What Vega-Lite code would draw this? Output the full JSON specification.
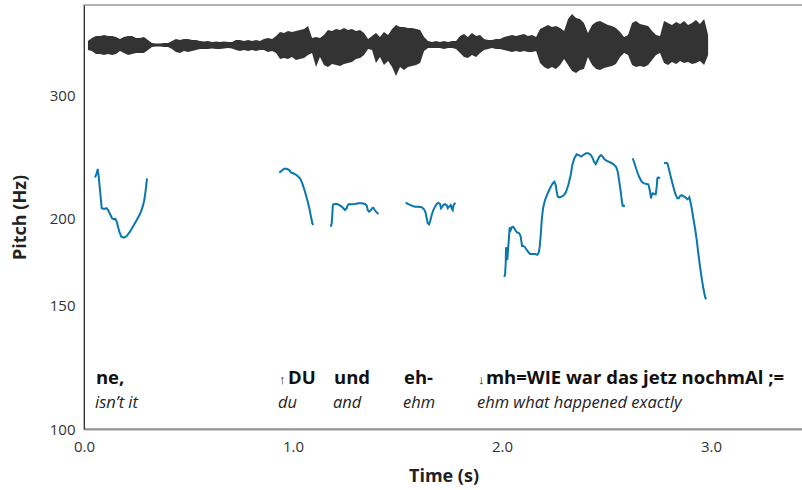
{
  "$schema": "https://vega.github.io/schema/vega-lite/v6.json",
  "width": 719,
  "height": 424,
  "autosize": {"type": "none"},
  "padding": {"left": 84, "top": 5, "right": 0, "bottom": 61},
  "background": "white",
  "config": {"view": {"stroke": "#999", "strokeWidth": 1.5}, "font": "Open Sans"},
  "datasets": {
    "wave": [
      {"t":0.019,"hi":4,"lo":-5},{"t":0.038,"hi":7,"lo":-6},{"t":0.057,"hi":9,"lo":-9},{"t":0.077,"hi":9,"lo":-9},{"t":0.096,"hi":10,"lo":-10},{"t":0.115,"hi":9,"lo":-9},{"t":0.134,"hi":9,"lo":-10},{"t":0.153,"hi":8,"lo":-9},{"t":0.172,"hi":6,"lo":-6},{"t":0.191,"hi":8,"lo":-8},
      {"t":0.211,"hi":9,"lo":-10},{"t":0.230,"hi":9,"lo":-9},{"t":0.249,"hi":7,"lo":-8},{"t":0.268,"hi":7,"lo":-8},{"t":0.287,"hi":8,"lo":-8},{"t":0.306,"hi":5,"lo":-5},{"t":0.325,"hi":2,"lo":-2},{"t":0.344,"hi":1.5,"lo":-1.5},{"t":0.364,"hi":1.5,"lo":-1.5},{"t":0.383,"hi":2,"lo":-2},
      {"t":0.402,"hi":2,"lo":-2},{"t":0.421,"hi":4,"lo":-4},{"t":0.440,"hi":6,"lo":-7},{"t":0.459,"hi":5,"lo":-8},{"t":0.478,"hi":6,"lo":-6},{"t":0.498,"hi":6,"lo":-7},{"t":0.517,"hi":5,"lo":-6},{"t":0.536,"hi":5,"lo":-5},{"t":0.555,"hi":4,"lo":-4},{"t":0.574,"hi":3.5,"lo":-4},
      {"t":0.593,"hi":4,"lo":-4},{"t":0.612,"hi":3,"lo":-3.5},{"t":0.632,"hi":3.5,"lo":-4},{"t":0.651,"hi":3,"lo":-4},{"t":0.670,"hi":3.5,"lo":-3.5},{"t":0.689,"hi":3,"lo":-3},{"t":0.708,"hi":3,"lo":-3.5},{"t":0.727,"hi":5,"lo":-5},{"t":0.746,"hi":5,"lo":-6},{"t":0.766,"hi":4,"lo":-5},
      {"t":0.785,"hi":5,"lo":-6},{"t":0.804,"hi":4,"lo":-5},{"t":0.823,"hi":5,"lo":-6},{"t":0.842,"hi":4,"lo":-5},{"t":0.861,"hi":6,"lo":-5},{"t":0.880,"hi":7,"lo":-7},{"t":0.900,"hi":6,"lo":-6},{"t":0.919,"hi":9,"lo":-8},{"t":0.938,"hi":13,"lo":-14},{"t":0.957,"hi":12,"lo":-13},
      {"t":0.976,"hi":14,"lo":-14},{"t":0.995,"hi":13,"lo":-12},{"t":1.014,"hi":14,"lo":-15},{"t":1.033,"hi":15,"lo":-14},{"t":1.053,"hi":16,"lo":-13},{"t":1.072,"hi":19,"lo":-10},{"t":1.091,"hi":7,"lo":-8},{"t":1.110,"hi":8,"lo":-22},{"t":1.129,"hi":7,"lo":-12},{"t":1.148,"hi":10,"lo":-20},
      {"t":1.167,"hi":15,"lo":-22},{"t":1.187,"hi":14,"lo":-19},{"t":1.206,"hi":16,"lo":-20},{"t":1.225,"hi":15,"lo":-21},{"t":1.244,"hi":17,"lo":-19},{"t":1.263,"hi":15,"lo":-18},{"t":1.282,"hi":16,"lo":-17},{"t":1.301,"hi":14,"lo":-14},{"t":1.321,"hi":15,"lo":-13},{"t":1.340,"hi":12,"lo":-10},
      {"t":1.359,"hi":6,"lo":-4},{"t":1.378,"hi":9,"lo":-5},{"t":1.397,"hi":12,"lo":-18},{"t":1.416,"hi":8,"lo":-12},{"t":1.435,"hi":13,"lo":-20},{"t":1.455,"hi":10,"lo":-16},{"t":1.474,"hi":16,"lo":-22},{"t":1.493,"hi":20,"lo":-31},{"t":1.512,"hi":18,"lo":-22},{"t":1.531,"hi":18,"lo":-25},
      {"t":1.550,"hi":17,"lo":-22},{"t":1.569,"hi":17,"lo":-21},{"t":1.589,"hi":16,"lo":-20},{"t":1.608,"hi":15,"lo":-18},{"t":1.627,"hi":8,"lo":-6},{"t":1.646,"hi":4,"lo":-3},{"t":1.665,"hi":3,"lo":-3},{"t":1.684,"hi":4,"lo":-3},{"t":1.703,"hi":3,"lo":-3},{"t":1.722,"hi":4,"lo":-4},
      {"t":1.742,"hi":3,"lo":-3},{"t":1.761,"hi":4,"lo":-3},{"t":1.780,"hi":4,"lo":-4},{"t":1.799,"hi":9,"lo":-8},{"t":1.818,"hi":11,"lo":-12},{"t":1.837,"hi":8,"lo":-13},{"t":1.856,"hi":12,"lo":-10},{"t":1.876,"hi":9,"lo":-12},{"t":1.895,"hi":10,"lo":-8},{"t":1.914,"hi":6,"lo":-5},
      {"t":1.933,"hi":5,"lo":-4},{"t":1.952,"hi":5,"lo":-3},{"t":1.971,"hi":6,"lo":-4},{"t":1.990,"hi":6,"lo":-4},{"t":2.010,"hi":8,"lo":-5},{"t":2.029,"hi":9,"lo":-6},{"t":2.048,"hi":10,"lo":-7},{"t":2.067,"hi":9,"lo":-6},{"t":2.086,"hi":10,"lo":-7},{"t":2.105,"hi":11,"lo":-6},
      {"t":2.124,"hi":9,"lo":-7},{"t":2.144,"hi":10,"lo":-7},{"t":2.163,"hi":8,"lo":-6},{"t":2.182,"hi":16,"lo":-18},{"t":2.201,"hi":18,"lo":-22},{"t":2.220,"hi":20,"lo":-24},{"t":2.239,"hi":18,"lo":-22},{"t":2.258,"hi":19,"lo":-24},{"t":2.278,"hi":17,"lo":-20},{"t":2.297,"hi":14,"lo":-14},
      {"t":2.316,"hi":26,"lo":-20},{"t":2.335,"hi":31,"lo":-26},{"t":2.354,"hi":27,"lo":-28},{"t":2.373,"hi":26,"lo":-25},{"t":2.392,"hi":22,"lo":-24},{"t":2.411,"hi":12,"lo":-12},{"t":2.431,"hi":20,"lo":-20},{"t":2.450,"hi":23,"lo":-24},{"t":2.469,"hi":24,"lo":-25},{"t":2.488,"hi":22,"lo":-23},
      {"t":2.507,"hi":20,"lo":-22},{"t":2.526,"hi":19,"lo":-21},{"t":2.545,"hi":17,"lo":-19},{"t":2.565,"hi":13,"lo":-12},{"t":2.584,"hi":8,"lo":-8},{"t":2.603,"hi":10,"lo":-10},{"t":2.622,"hi":22,"lo":-20},{"t":2.641,"hi":24,"lo":-22},{"t":2.660,"hi":21,"lo":-21},{"t":2.679,"hi":20,"lo":-22},
      {"t":2.699,"hi":19,"lo":-20},{"t":2.718,"hi":14,"lo":-15},{"t":2.737,"hi":10,"lo":-10},{"t":2.756,"hi":9,"lo":-8},{"t":2.775,"hi":24,"lo":-18},{"t":2.794,"hi":22,"lo":-20},{"t":2.813,"hi":20,"lo":-17},{"t":2.833,"hi":23,"lo":-19},{"t":2.852,"hi":21,"lo":-16},{"t":2.871,"hi":24,"lo":-18},
      {"t":2.890,"hi":20,"lo":-17},{"t":2.909,"hi":22,"lo":-19},{"t":2.928,"hi":25,"lo":-18},{"t":2.947,"hi":21,"lo":-16},{"t":2.967,"hi":26,"lo":-20},{"t":2.986,"hi":10,"lo":-10}
    ],
    "pitch": [
      {"seg":1,"t":0.0526,"hz":229.2},{"seg":1,"t":0.0608,"hz":232.3},{"seg":1,"t":0.0656,"hz":235.6},{"seg":1,"t":0.0703,"hz":229.7},{"seg":1,"t":0.0766,"hz":219.8},{"seg":1,"t":0.0847,"hz":207.0},{"seg":1,"t":0.0957,"hz":206.5},{"seg":1,"t":0.1086,"hz":207.0},{"seg":1,"t":0.1148,"hz":205.8},{"seg":1,"t":0.1244,"hz":203.1},{"seg":1,"t":0.1340,"hz":200.3},{"seg":1,"t":0.1435,"hz":199.6},{"seg":1,"t":0.1498,"hz":200.0},{"seg":1,"t":0.1565,"hz":198.1},{"seg":1,"t":0.1627,"hz":194.8},{"seg":1,"t":0.1689,"hz":191.6},{"seg":1,"t":0.1785,"hz":188.5},{"seg":1,"t":0.1914,"hz":187.9},{"seg":1,"t":0.2043,"hz":188.9},{"seg":1,"t":0.2201,"hz":191.6},{"seg":1,"t":0.2359,"hz":195.2},{"seg":1,"t":0.2522,"hz":199.1},{"seg":1,"t":0.2679,"hz":203.1},{"seg":1,"t":0.2809,"hz":208.1},{"seg":1,"t":0.2885,"hz":212.7},{"seg":1,"t":0.2952,"hz":219.8},{"seg":1,"t":0.3014,"hz":228.5},
      {"seg":2,"t":0.9344,"hz":232.8},{"seg":2,"t":0.9459,"hz":234.3},{"seg":2,"t":0.9569,"hz":235.8},{"seg":2,"t":0.9699,"hz":235.8},{"seg":2,"t":0.9823,"hz":234.8},{"seg":2,"t":0.9890,"hz":233.0},{"seg":2,"t":1.0014,"hz":232.3},{"seg":2,"t":1.0177,"hz":230.8},{"seg":2,"t":1.0335,"hz":228.5},{"seg":2,"t":1.0445,"hz":224.7},{"seg":2,"t":1.0574,"hz":218.6},{"seg":2,"t":1.0684,"hz":212.7},{"seg":2,"t":1.0780,"hz":207.0},{"seg":2,"t":1.0861,"hz":201.3},{"seg":2,"t":1.0923,"hz":197.0},{"seg":2,"t":1.0971,"hz":195.9},
      {"seg":3,"t":1.1804,"hz":194.8},{"seg":3,"t":1.1852,"hz":197.0},{"seg":3,"t":1.1880,"hz":202.5},{"seg":3,"t":1.1900,"hz":208.1},{"seg":3,"t":1.1928,"hz":209.7},{"seg":3,"t":1.2010,"hz":209.9},{"seg":3,"t":1.2120,"hz":209.9},{"seg":3,"t":1.2215,"hz":209.2},{"seg":3,"t":1.2330,"hz":208.1},{"seg":3,"t":1.2407,"hz":207.0},{"seg":3,"t":1.2488,"hz":205.8},{"seg":3,"t":1.2569,"hz":207.0},{"seg":3,"t":1.2617,"hz":209.2},{"seg":3,"t":1.2694,"hz":209.9},{"seg":3,"t":1.2809,"hz":209.7},{"seg":3,"t":1.2967,"hz":209.9},{"seg":3,"t":1.3124,"hz":210.4},{"seg":3,"t":1.3287,"hz":210.4},{"seg":3,"t":1.3445,"hz":209.9},{"seg":3,"t":1.3526,"hz":208.8},{"seg":3,"t":1.3574,"hz":205.8},{"seg":3,"t":1.3636,"hz":204.7},{"seg":3,"t":1.3718,"hz":205.4},{"seg":3,"t":1.3780,"hz":207.0},{"seg":3,"t":1.3842,"hz":207.4},{"seg":3,"t":1.3909,"hz":205.8},{"seg":3,"t":1.3971,"hz":204.7},{"seg":3,"t":1.4081,"hz":203.1},
      {"seg":4,"t":1.5392,"hz":210.8},{"seg":4,"t":1.5517,"hz":209.9},{"seg":4,"t":1.5679,"hz":208.8},{"seg":4,"t":1.5837,"hz":208.1},{"seg":4,"t":1.5995,"hz":208.1},{"seg":4,"t":1.6158,"hz":207.7},{"seg":4,"t":1.6268,"hz":206.3},{"seg":4,"t":1.6330,"hz":204.7},{"seg":4,"t":1.6397,"hz":200.3},{"seg":4,"t":1.6445,"hz":197.0},{"seg":4,"t":1.6507,"hz":196.3},{"seg":4,"t":1.6555,"hz":198.1},{"seg":4,"t":1.6636,"hz":202.5},{"seg":4,"t":1.6713,"hz":205.8},{"seg":4,"t":1.6794,"hz":208.1},{"seg":4,"t":1.6876,"hz":209.9},{"seg":4,"t":1.6952,"hz":210.8},{"seg":4,"t":1.7033,"hz":209.9},{"seg":4,"t":1.7081,"hz":207.0},{"seg":4,"t":1.7144,"hz":208.1},{"seg":4,"t":1.7191,"hz":209.2},{"seg":4,"t":1.7273,"hz":209.9},{"seg":4,"t":1.7354,"hz":209.2},{"seg":4,"t":1.7402,"hz":207.0},{"seg":4,"t":1.7464,"hz":208.1},{"seg":4,"t":1.7545,"hz":209.2},{"seg":4,"t":1.7593,"hz":207.0},{"seg":4,"t":1.7641,"hz":205.8},{"seg":4,"t":1.7670,"hz":208.6},{"seg":4,"t":1.7718,"hz":209.9},{"seg":4,"t":1.7766,"hz":210.8},
      {"seg":5,"t":2.0096,"hz":165.2},{"seg":5,"t":2.0144,"hz":166.1},{"seg":5,"t":2.0177,"hz":172.7},{"seg":5,"t":2.0191,"hz":182.0},{"seg":5,"t":2.0225,"hz":180.4},{"seg":5,"t":2.0254,"hz":174.6},{"seg":5,"t":2.0287,"hz":180.4},{"seg":5,"t":2.0335,"hz":188.5},{"seg":5,"t":2.0368,"hz":194.4},{"seg":5,"t":2.0416,"hz":192.7},{"seg":5,"t":2.0464,"hz":194.4},{"seg":5,"t":2.0526,"hz":194.8},{"seg":5,"t":2.0589,"hz":193.8},{"seg":5,"t":2.0656,"hz":192.3},{"seg":5,"t":2.0732,"hz":191.0},{"seg":5,"t":2.0828,"hz":190.6},{"seg":5,"t":2.0895,"hz":188.5},{"seg":5,"t":2.0957,"hz":182.8},{"seg":5,"t":2.1019,"hz":182.8},{"seg":5,"t":2.1100,"hz":182.0},{"seg":5,"t":2.1182,"hz":180.4},{"seg":5,"t":2.1258,"hz":179.2},{"seg":5,"t":2.1340,"hz":178.0},{"seg":5,"t":2.1469,"hz":178.0},{"seg":5,"t":2.1579,"hz":178.0},{"seg":5,"t":2.1689,"hz":177.6},{"seg":5,"t":2.1756,"hz":178.8},{"seg":5,"t":2.1804,"hz":182.4},{"seg":5,"t":2.1852,"hz":189.5},{"seg":5,"t":2.1900,"hz":199.1},{"seg":5,"t":2.1962,"hz":207.0},{"seg":5,"t":2.2057,"hz":212.7},{"seg":5,"t":2.2187,"hz":217.5},{"seg":5,"t":2.2297,"hz":221.1},{"seg":5,"t":2.2426,"hz":224.7},{"seg":5,"t":2.2502,"hz":225.9},{"seg":5,"t":2.2569,"hz":223.5},{"seg":5,"t":2.2617,"hz":218.6},{"seg":5,"t":2.2665,"hz":215.1},{"seg":5,"t":2.2742,"hz":214.6},{"seg":5,"t":2.2856,"hz":215.1},{"seg":5,"t":2.2967,"hz":216.2},{"seg":5,"t":2.3062,"hz":218.6},{"seg":5,"t":2.3172,"hz":223.5},{"seg":5,"t":2.3287,"hz":231.0},{"seg":5,"t":2.3364,"hz":238.7},{"seg":5,"t":2.3459,"hz":244.1},{"seg":5,"t":2.3574,"hz":247.3},{"seg":5,"t":2.3670,"hz":246.7},{"seg":5,"t":2.3780,"hz":245.4},{"seg":5,"t":2.3890,"hz":246.7},{"seg":5,"t":2.4019,"hz":248.1},{"seg":5,"t":2.4129,"hz":248.1},{"seg":5,"t":2.4244,"hz":246.7},{"seg":5,"t":2.4340,"hz":244.1},{"seg":5,"t":2.4402,"hz":241.3},{"seg":5,"t":2.4483,"hz":239.5},{"seg":5,"t":2.4560,"hz":242.1},{"seg":5,"t":2.4656,"hz":245.4},{"seg":5,"t":2.4737,"hz":246.7},{"seg":5,"t":2.4818,"hz":245.4},{"seg":5,"t":2.4895,"hz":243.5},{"seg":5,"t":2.5010,"hz":241.9},{"seg":5,"t":2.5167,"hz":240.9},{"seg":5,"t":2.5325,"hz":239.5},{"seg":5,"t":2.5455,"hz":237.4},{"seg":5,"t":2.5536,"hz":233.5},{"seg":5,"t":2.5612,"hz":225.9},{"seg":5,"t":2.5679,"hz":218.6},{"seg":5,"t":2.5727,"hz":212.7},{"seg":5,"t":2.5775,"hz":208.6},{"seg":5,"t":2.5885,"hz":208.8},
      {"seg":6,"t":2.6254,"hz":244.1},{"seg":6,"t":2.6330,"hz":240.5},{"seg":6,"t":2.6411,"hz":236.2},{"seg":6,"t":2.6493,"hz":232.3},{"seg":6,"t":2.6569,"hz":229.2},{"seg":6,"t":2.6684,"hz":225.9},{"seg":6,"t":2.6794,"hz":224.7},{"seg":6,"t":2.6923,"hz":224.2},{"seg":6,"t":2.7000,"hz":224.0},{"seg":6,"t":2.7048,"hz":221.1},{"seg":6,"t":2.7096,"hz":217.5},{"seg":6,"t":2.7129,"hz":213.9},{"seg":6,"t":2.7163,"hz":216.2},{"seg":6,"t":2.7211,"hz":217.5},{"seg":6,"t":2.7273,"hz":217.0},{"seg":6,"t":2.7354,"hz":216.8},{"seg":6,"t":2.7402,"hz":222.2},{"seg":6,"t":2.7431,"hz":228.5},{"seg":6,"t":2.7478,"hz":229.2},{"seg":6,"t":2.7560,"hz":228.5},
      {"seg":7,"t":2.7751,"hz":240.1},{"seg":7,"t":2.7847,"hz":240.5},{"seg":7,"t":2.7909,"hz":240.1},{"seg":7,"t":2.7976,"hz":236.2},{"seg":7,"t":2.8053,"hz":231.0},{"seg":7,"t":2.8134,"hz":225.9},{"seg":7,"t":2.8215,"hz":221.1},{"seg":7,"t":2.8292,"hz":217.0},{"seg":7,"t":2.8388,"hz":213.9},{"seg":7,"t":2.8455,"hz":213.9},{"seg":7,"t":2.8517,"hz":215.5},{"seg":7,"t":2.8598,"hz":216.2},{"seg":7,"t":2.8675,"hz":215.5},{"seg":7,"t":2.8770,"hz":214.6},{"seg":7,"t":2.8866,"hz":213.2},{"seg":7,"t":2.8933,"hz":213.9},{"seg":7,"t":2.8962,"hz":214.6},{"seg":7,"t":2.8995,"hz":212.7},{"seg":7,"t":2.9077,"hz":207.0},{"seg":7,"t":2.9153,"hz":200.3},{"seg":7,"t":2.9234,"hz":193.8},{"seg":7,"t":2.9316,"hz":186.4},{"seg":7,"t":2.9392,"hz":178.4},{"seg":7,"t":2.9474,"hz":170.7},{"seg":7,"t":2.9555,"hz":164.3},{"seg":7,"t":2.9632,"hz":159.0},{"seg":7,"t":2.9713,"hz":154.7},{"seg":7,"t":2.9761,"hz":153.3}
    ],
    "words": [
      {"t":0.057,"hz":116,"label":"ne,"},
      {"t":0.976,"hz":116,"label":"DU"},
      {"t":1.196,"hz":116,"label":"und"},
      {"t":1.531,"hz":116,"label":"eh-"},
      {"t":1.923,"hz":116,"label":"mh=WIE war das jetz nochmAl ;="}
    ],
    "arrows": [
      {"t":0.933,"hz":116,"label":"↑"},
      {"t":1.885,"hz":116,"label":"↓"}
    ],
    "gloss": [
      {"t":0.053,"hz":107.3,"label":"isn’t it"},
      {"t":0.928,"hz":107.3,"label":"du"},
      {"t":1.191,"hz":107.3,"label":"and"},
      {"t":1.526,"hz":107.3,"label":"ehm"},
      {"t":1.880,"hz":107.3,"label":"ehm what happened exactly"}
    ]
  },
  "layer": [
    {
      "data": {"name": "wave"},
      "mark": {"type": "area", "color": "#333333", "interpolate": "linear"},
      "encoding": {
        "x": {"field": "t", "type": "quantitative", "scale": {"domain": [0, 3.44], "nice": false, "zero": false}},
        "y": {"field": "hi", "type": "quantitative", "scale": {"domain": [-384, 40], "nice": false, "zero": false}, "axis": null},
        "y2": {"field": "lo"}
      }
    },
    {
      "layer": [
        {
          "data": {"name": "pitch"},
          "mark": {"type": "line", "color": "#0a77ad", "strokeWidth": 2, "interpolate": "linear"},
          "encoding": {
            "x": {
              "field": "t", "type": "quantitative",
              "scale": {"domain": [0, 3.44], "nice": false, "zero": false},
              "axis": {"values": [0, 1, 2, 3], "format": ".1f", "title": "Time (s)", "ticks": false, "grid": false, "domainColor": "#999999", "domainWidth": 2, "labelFontSize": 15, "labelColor": "#333333", "labelPadding": 10, "labelFlush": false, "labelOverlap": false, "titleFontSize": 18, "titleFontWeight": "bold", "titleColor": "#222222", "titlePadding": 13}
            },
            "y": {
              "field": "hz", "type": "quantitative",
              "scale": {"type": "log", "domain": [100, 404.5], "nice": false},
              "axis": {"values": [100, 150, 200, 300], "title": "Pitch (Hz)", "ticks": false, "grid": false, "domainColor": "#333333", "domainWidth": 1, "labelFontSize": 15, "labelColor": "#333333", "labelPadding": 9, "labelFlush": false, "labelOverlap": false, "titleFontSize": 18, "titleFontWeight": "bold", "titleColor": "#222222", "titlePadding": 20}
            },
            "detail": {"field": "seg", "type": "nominal"}
          }
        },
        {
          "data": {"name": "words"},
          "mark": {"type": "text", "align": "left", "baseline": "alphabetic", "fontSize": 18.5, "fontWeight": "bold", "color": "#111111"},
          "encoding": {
            "x": {"field": "t", "type": "quantitative"},
            "y": {"field": "hz", "type": "quantitative"},
            "text": {"field": "label"}
          }
        },
        {
          "data": {"name": "arrows"},
          "mark": {"type": "text", "align": "left", "baseline": "alphabetic", "fontSize": 13, "color": "#111111"},
          "encoding": {
            "x": {"field": "t", "type": "quantitative"},
            "y": {"field": "hz", "type": "quantitative"},
            "text": {"field": "label"}
          }
        },
        {
          "data": {"name": "gloss"},
          "mark": {"type": "text", "align": "left", "baseline": "alphabetic", "fontSize": 16.5, "fontStyle": "italic", "color": "#222222"},
          "encoding": {
            "x": {"field": "t", "type": "quantitative"},
            "y": {"field": "hz", "type": "quantitative"},
            "text": {"field": "label"}
          }
        }
      ]
    }
  ],
  "resolve": {"scale": {"y": "independent"}}
}
